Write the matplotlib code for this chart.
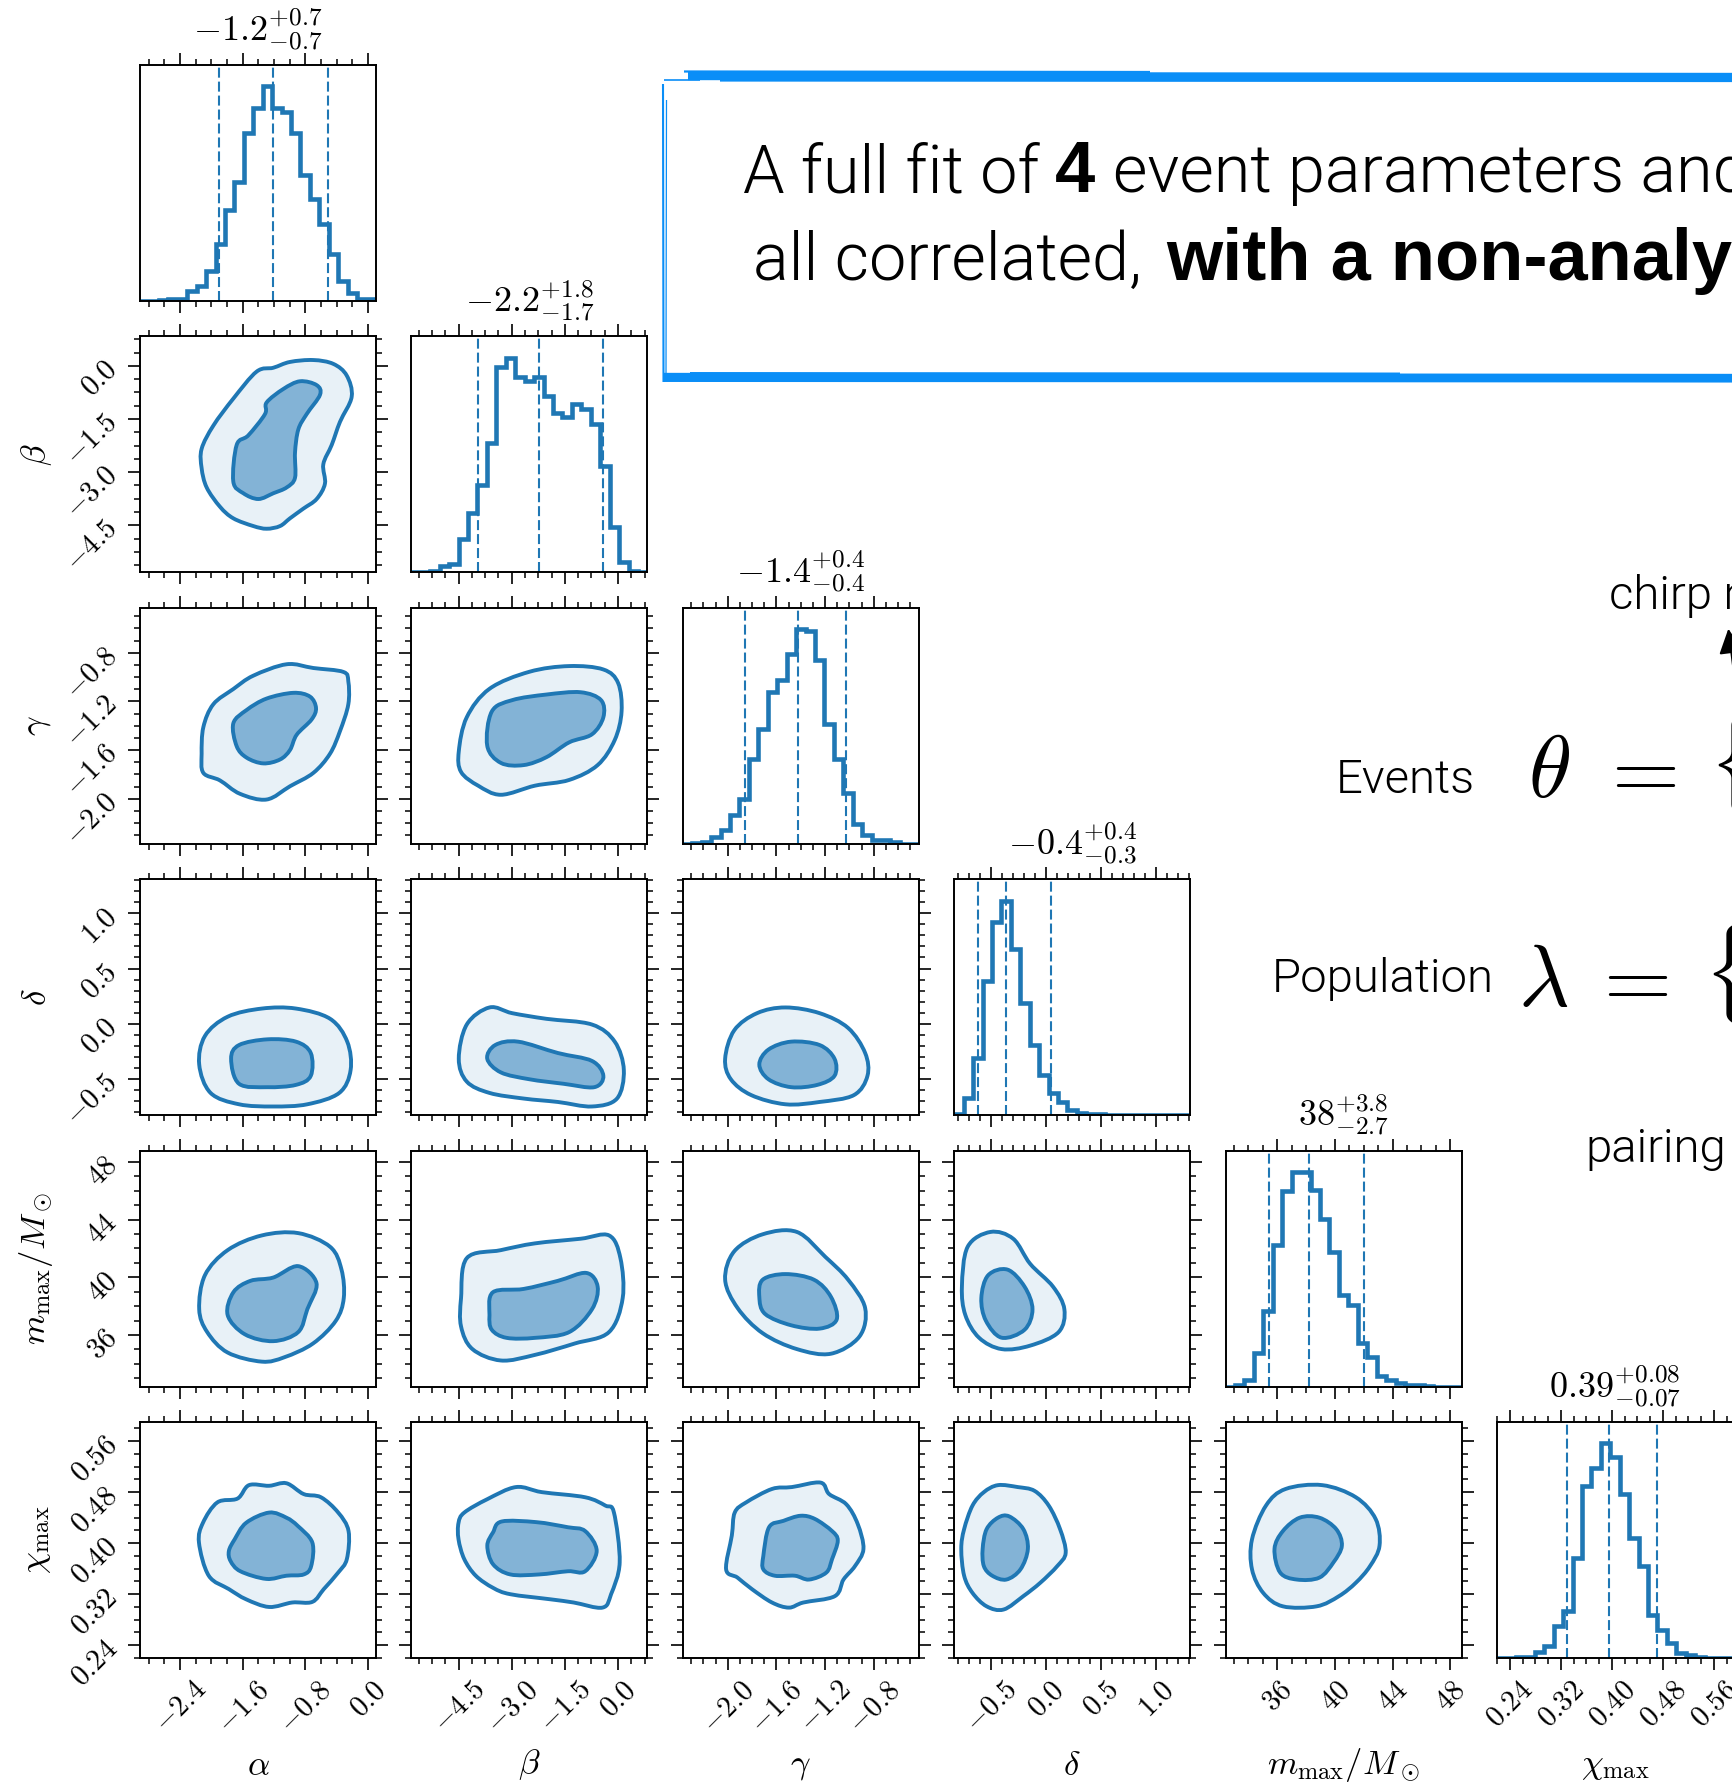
import numpy as np
import matplotlib
matplotlib.use("Agg")
import matplotlib.pyplot as plt
from matplotlib.ticker import FixedLocator, AutoMinorLocator, FuncFormatter, NullLocator
from matplotlib.lines import Line2D
from matplotlib.patches import FancyArrowPatch, PathPatch
from matplotlib.path import Path
from matplotlib import font_manager as fm
from matplotlib.font_manager import FontProperties

plt.rcParams['mathtext.fontset'] = 'cm'

# ---------------- data ----------------
param_labels = [r'$\alpha$', r'$\beta$', r'$\gamma$', r'$\delta$',
                r'$m_\mathrm{max}/M_\odot$', r'$\chi_\mathrm{max}$']
param_ranges = [(-2.91, 0.10), (-5.83, 0.83), (-2.37, -0.43),
                (-0.83, 1.31), (32.42, 48.78), (0.220, 0.590)]
param_ticks = [[-2.4, -1.6, -0.8, 0.0], [-4.5, -3.0, -1.5, 0.0],
               [-2.0, -1.6, -1.2, -0.8], [-0.5, 0.0, 0.5, 1.0],
               [36, 40, 44, 48], [0.24, 0.32, 0.40, 0.48, 0.56]]
tick_fmts = ['%.1f', '%.1f', '%.1f', '%.1f', '%d', '%.2f']
titles = [r'$-1.2^{+0.7}_{-0.7}$', r'$-2.2^{+1.8}_{-1.7}$', r'$-1.4^{+0.4}_{-0.4}$',
          r'$-0.4^{+0.4}_{-0.3}$', r'$38^{+3.8}_{-2.7}$', r'$0.39^{+0.08}_{-0.07}$']

q_alpha = [-1.90, -1.21, -0.51]
q_beta = [-3.96, -2.24, -0.41]
q_gamma = [-1.86, -1.42, -1.03]
q_delta = [-0.615, -0.358, 0.05]
q_mmax = [35.44, 38.19, 42.0]
q_chi = [0.330, 0.395, 0.471]

hist_alpha = [0, 0, 2, 5, 5, 30, 45, 90, 170, 270, 355, 500, 575, 638, 575, 562, 500, 375, 302, 230, 140, 60, 25, 5, 5]
hist_beta = [0, 2, 5, 18, 25, 98, 178, 260, 385, 610, 638, 580, 570, 580, 525, 475, 462, 500, 485, 442, 315, 135, 30, 5, 2]
hist_gamma = [0, 2, 5, 20, 40, 85, 132, 252, 342, 450, 488, 565, 638, 632, 548, 355, 252, 150, 60, 25, 12, 10, 5, 0, 0]
hist_delta = [5, 50, 170, 398, 575, 638, 495, 335, 210, 120, 65, 40, 15, 8, 5, 3, 2, 1, 1, 1, 1, 0, 0, 0, 0]
hist_mmax = [0, 5, 20, 98, 225, 420, 578, 635, 635, 582, 495, 398, 270, 242, 130, 88, 32, 20, 10, 5, 4, 2, 0, 0, 0]
hist_chi = [0, 0, 2, 4, 17, 37, 94, 140, 297, 512, 567, 640, 600, 490, 357, 274, 127, 84, 44, 14, 9, 2, 0, 0, 0]

# 2D credible-region outlines (x = column parameter, y = row parameter)
c_beta_alpha_out = [(-2.124, -2.343), (-1.975, -1.689), (-1.720, -0.926), (-1.422, -0.163), (-1.209, -0.054), (-0.997, 0.109), (-0.699, 0.163), (-0.444, 0.054), (-0.274, -0.272), (-0.210, -0.872), (-0.359, -1.580), (-0.465, -2.233), (-0.572, -2.778), (-0.551, -3.323), (-0.657, -3.759), (-0.827, -4.031), (-0.997, -4.304), (-1.124, -4.522), (-1.295, -4.598), (-1.465, -4.522), (-1.720, -4.304), (-1.890, -3.977), (-2.060, -3.432), (-2.124, -2.888)]
c_beta_alpha_in = [(-1.720, -3.268), (-1.677, -2.233), (-1.528, -1.961), (-1.316, -1.362), (-1.295, -1.035), (-1.082, -0.654), (-0.869, -0.436), (-0.657, -0.545), (-0.614, -0.817), (-0.784, -1.362), (-0.891, -1.798), (-0.933, -2.451), (-0.933, -3.160), (-1.039, -3.432), (-1.209, -3.596), (-1.401, -3.759), (-1.592, -3.596)]

c_gamma_alpha_out = [(-2.124, -1.630), (-2.102, -1.411), (-1.975, -1.223), (-1.720, -1.098), (-1.465, -0.988), (-1.039, -0.894), (-0.699, -0.925), (-0.317, -0.957), (-0.253, -1.035), (-0.253, -1.223), (-0.359, -1.443), (-0.487, -1.630), (-0.699, -1.787), (-0.997, -1.897), (-1.295, -2.006), (-1.635, -1.959), (-1.890, -1.849), (-2.102, -1.787)]
c_gamma_alpha_in = [(-1.720, -1.380), (-1.550, -1.270), (-1.295, -1.176), (-0.954, -1.129), (-0.742, -1.160), (-0.665, -1.254), (-0.721, -1.348), (-0.912, -1.474), (-0.997, -1.599), (-1.124, -1.677), (-1.337, -1.709), (-1.550, -1.662), (-1.677, -1.568)]
c_gamma_beta_out = [(-4.493, -1.611), (-4.268, -1.330), (-3.626, -1.096), (-2.501, -0.956), (-1.377, -0.909), (-0.413, -0.937), (0.005, -1.049), (0.101, -1.283), (-0.092, -1.517), (-0.574, -1.723), (-1.377, -1.845), (-2.341, -1.892), (-3.305, -1.967), (-3.947, -1.892), (-4.429, -1.779)]
c_gamma_beta_in = [(-3.690, -1.564), (-3.562, -1.283), (-2.984, -1.189), (-2.020, -1.143), (-1.056, -1.124), (-0.478, -1.189), (-0.413, -1.330), (-0.735, -1.470), (-1.377, -1.536), (-2.020, -1.658), (-2.663, -1.723), (-3.305, -1.705)]

c_delta_alpha_out = [(-2.155, -0.370), (-2.082, -0.112), (-1.792, 0.063), (-1.356, 0.137), (-0.921, 0.137), (-0.485, 0.044), (-0.267, -0.163), (-0.224, -0.421), (-0.369, -0.628), (-0.776, -0.731), (-1.211, -0.751), (-1.647, -0.731), (-2.010, -0.628)]
c_delta_alpha_in = [(-1.748, -0.318), (-1.647, -0.194), (-1.284, -0.142), (-0.921, -0.163), (-0.732, -0.266), (-0.732, -0.473), (-0.921, -0.555), (-1.284, -0.576), (-1.647, -0.545)]
c_delta_beta_out = [(-4.493, -0.318), (-4.268, -0.008), (-3.626, 0.147), (-2.984, 0.095), (-2.020, 0.044), (-0.734, -0.008), (-0.092, -0.163), (0.165, -0.421), (-0.028, -0.679), (-0.734, -0.751), (-1.698, -0.710), (-2.662, -0.679), (-3.626, -0.628), (-4.268, -0.525)]
c_delta_beta_in = [(-3.690, -0.318), (-3.465, -0.194), (-2.822, -0.163), (-1.698, -0.266), (-0.734, -0.338), (-0.413, -0.473), (-0.670, -0.576), (-1.538, -0.545), (-2.502, -0.504), (-3.305, -0.442)]
c_delta_gamma_out = [(-2.022, -0.318), (-1.947, -0.060), (-1.760, 0.095), (-1.526, 0.147), (-1.245, 0.095), (-1.011, -0.039), (-0.871, -0.266), (-0.852, -0.473), (-0.964, -0.648), (-1.245, -0.710), (-1.526, -0.731), (-1.807, -0.648), (-1.975, -0.504)]
c_delta_gamma_in = [(-1.741, -0.370), (-1.666, -0.235), (-1.479, -0.163), (-1.245, -0.194), (-1.123, -0.318), (-1.123, -0.473), (-1.264, -0.555), (-1.479, -0.576), (-1.666, -0.504)]

c_m_alpha_out = [(-2.155, 37.78), (-2.082, 40.14), (-1.792, 41.88), (-1.356, 42.90), (-0.892, 43.06), (-0.485, 42.11), (-0.340, 40.53), (-0.311, 38.56), (-0.413, 36.98), (-0.703, 35.41), (-1.066, 34.46), (-1.356, 34.15), (-1.792, 34.78), (-2.053, 36.20)]
c_m_alpha_in = [(-1.792, 37.38), (-1.719, 38.96), (-1.502, 39.75), (-1.211, 39.98), (-0.892, 40.77), (-0.659, 39.59), (-0.776, 37.78), (-0.892, 36.20), (-1.211, 35.57), (-1.574, 36.05)]
c_m_beta_out = [(-4.429, 38.56), (-4.268, 41.32), (-3.305, 41.88), (-2.341, 42.35), (-1.056, 42.67), (-0.253, 42.90), (0.069, 41.32), (0.133, 38.56), (-0.253, 36.20), (-1.217, 35.41), (-2.341, 34.62), (-3.305, 34.23), (-4.108, 35.02), (-4.429, 36.59)]
c_m_beta_in = [(-3.626, 37.38), (-3.530, 38.96), (-2.662, 39.19), (-1.698, 39.75), (-0.895, 40.30), (-0.574, 39.35), (-0.734, 37.78), (-1.377, 36.20), (-2.341, 35.80), (-3.144, 35.80), (-3.562, 36.36)]
c_m_gamma_out = [(-2.022, 39.83), (-1.947, 41.80), (-1.713, 42.98), (-1.432, 43.14), (-1.198, 41.41), (-1.011, 39.83), (-0.871, 37.86), (-0.918, 35.89), (-1.152, 34.70), (-1.432, 35.02), (-1.713, 36.12), (-1.919, 37.86)]
c_m_gamma_in = [(-1.741, 38.64), (-1.713, 39.83), (-1.526, 40.22), (-1.292, 39.83), (-1.152, 38.64), (-1.105, 37.07), (-1.245, 36.44), (-1.479, 36.67), (-1.694, 37.46)]
c_m_delta_out = [(-0.760, 39.35), (-0.708, 42.11), (-0.502, 43.14), (-0.295, 42.67), (-0.141, 40.93), (0.066, 39.35), (0.169, 37.78), (0.117, 36.20), (-0.141, 35.26), (-0.400, 35.02), (-0.605, 35.81), (-0.729, 37.38)]
c_m_delta_in = [(-0.584, 38.56), (-0.522, 40.14), (-0.347, 40.53), (-0.192, 39.35), (-0.120, 37.78), (-0.192, 36.36), (-0.400, 35.81), (-0.543, 36.99)]

c_chi_alpha_out = [(-2.158, 0.401), (-2.107, 0.432), (-1.923, 0.464), (-1.666, 0.470), (-1.520, 0.491), (-1.263, 0.490), (-1.043, 0.494), (-0.822, 0.477), (-0.602, 0.472), (-0.382, 0.448), (-0.250, 0.419), (-0.272, 0.375), (-0.382, 0.354), (-0.566, 0.328), (-0.712, 0.308), (-0.969, 0.307), (-1.263, 0.300), (-1.556, 0.312), (-1.776, 0.328), (-2.033, 0.349)]
c_chi_alpha_in = [(-1.776, 0.388), (-1.703, 0.406), (-1.556, 0.432), (-1.263, 0.448), (-1.043, 0.440), (-0.897, 0.427), (-0.712, 0.401), (-0.727, 0.364), (-0.822, 0.351), (-1.043, 0.349), (-1.300, 0.344), (-1.630, 0.356), (-1.755, 0.372)]
c_chi_beta_out = [(-4.50, 0.432), (-4.338, 0.448), (-3.688, 0.469), (-2.876, 0.488), (-2.145, 0.480), (-0.926, 0.472), (-0.357, 0.459), (-0.114, 0.448), (0.048, 0.370), (-0.195, 0.320), (-0.439, 0.299), (-1.251, 0.307), (-1.904, 0.312), (-3.038, 0.320), (-3.526, 0.330), (-4.013, 0.349), (-4.338, 0.375), (-4.50, 0.406)]
c_chi_beta_in = [(-3.688, 0.396), (-3.526, 0.417), (-3.282, 0.434), (-2.307, 0.433), (-1.414, 0.425), (-0.926, 0.419), (-0.601, 0.388), (-0.926, 0.356), (-1.414, 0.356), (-2.226, 0.351), (-3.038, 0.351), (-3.526, 0.367)]
c_chi_gamma_out = [(-2.014, 0.359), (-1.967, 0.412), (-1.943, 0.448), (-1.849, 0.464), (-1.637, 0.485), (-1.473, 0.488), (-1.238, 0.495), (-1.167, 0.477), (-1.026, 0.461), (-0.932, 0.430), (-0.885, 0.391), (-0.955, 0.364), (-1.049, 0.343), (-1.120, 0.317), (-1.379, 0.307), (-1.497, 0.299), (-1.637, 0.307), (-1.802, 0.328), (-1.920, 0.346)]
c_chi_gamma_in = [(-1.708, 0.380), (-1.661, 0.425), (-1.543, 0.435), (-1.402, 0.443), (-1.284, 0.438), (-1.143, 0.419), (-1.096, 0.404), (-1.143, 0.375), (-1.190, 0.354), (-1.332, 0.343), (-1.449, 0.349), (-1.614, 0.349), (-1.708, 0.359)]
c_chi_delta_out = [(-0.766, 0.391), (-0.740, 0.422), (-0.664, 0.459), (-0.561, 0.480), (-0.433, 0.491), (-0.254, 0.488), (-0.101, 0.482), (0.027, 0.459), (0.130, 0.422), (0.181, 0.385), (0.104, 0.364), (-0.049, 0.338), (-0.203, 0.317), (-0.382, 0.296), (-0.536, 0.301), (-0.664, 0.322), (-0.740, 0.349)]
c_chi_delta_in = [(-0.572, 0.391), (-0.536, 0.422), (-0.433, 0.440), (-0.331, 0.442), (-0.203, 0.422), (-0.162, 0.391), (-0.229, 0.359), (-0.357, 0.343), (-0.485, 0.349), (-0.561, 0.364)]
c_chi_m_out = [(34.25, 0.359), (34.25, 0.406), (35.22, 0.459), (36.58, 0.485), (39.12, 0.491), (41.45, 0.472), (42.82, 0.438), (43.09, 0.396), (42.43, 0.364), (41.45, 0.338), (40.28, 0.317), (38.73, 0.301), (36.39, 0.301), (35.03, 0.322)]
c_chi_m_in = [(35.81, 0.391), (36.39, 0.419), (37.56, 0.440), (38.92, 0.440), (40.09, 0.422), (40.48, 0.396), (39.90, 0.370), (38.92, 0.346), (37.36, 0.343), (36.20, 0.354)]

hists = [hist_alpha, hist_beta, hist_gamma, hist_delta, hist_mmax, hist_chi]
quants = [q_alpha, q_beta, q_gamma, q_delta, q_mmax, q_chi]
contours = {
    (1, 0): (c_beta_alpha_out, c_beta_alpha_in),
    (2, 0): (c_gamma_alpha_out, c_gamma_alpha_in),
    (2, 1): (c_gamma_beta_out, c_gamma_beta_in),
    (3, 0): (c_delta_alpha_out, c_delta_alpha_in),
    (3, 1): (c_delta_beta_out, c_delta_beta_in),
    (3, 2): (c_delta_gamma_out, c_delta_gamma_in),
    (4, 0): (c_m_alpha_out, c_m_alpha_in),
    (4, 1): (c_m_beta_out, c_m_beta_in),
    (4, 2): (c_m_gamma_out, c_m_gamma_in),
    (4, 3): (c_m_delta_out, c_m_delta_in),
    (5, 0): (c_chi_alpha_out, c_chi_alpha_in),
    (5, 1): (c_chi_beta_out, c_chi_beta_in),
    (5, 2): (c_chi_gamma_out, c_chi_gamma_in),
    (5, 3): (c_chi_delta_out, c_chi_delta_in),
    (5, 4): (c_chi_m_out, c_chi_m_in),
}

# ---------------- style ----------------
C = '#1f77b4'
C_LIGHT = '#e8f1f7'
C_MID = '#83b3d6'
BRUSH = '#0a8ef7'

W, H = 1733, 1785
fig = plt.figure(figsize=(W / 100, H / 100), dpi=100)
fig.patch.set_facecolor('white')

SIZE = 236
STEP = 271.4
LEFT0, TOP0 = 140, 65
N = len(param_labels)
TICK_FS = 21
TITLE_FS = 26
LABEL_FS = 25


def fx(x):
    return x / W


def fy(y):
    return 1 - y / H


def fmt_factory(f):
    return FuncFormatter(lambda v, p: '$' + (f % v) + '$')


def setup_axis(axis, k):
    axis.set_major_locator(FixedLocator(param_ticks[k]))
    axis.set_minor_locator(AutoMinorLocator())
    axis.set_major_formatter(fmt_factory(tick_fmts[k]))


def smooth_closed(pts):
    """Closed Catmull-Rom curve through the given vertices, as cubic Bezier path."""
    P = np.asarray(pts, float)
    n = len(P)
    verts = [P[0]]
    codes = [Path.MOVETO]
    for i in range(n):
        p0, p1, p2, p3 = P[(i - 1) % n], P[i], P[(i + 1) % n], P[(i + 2) % n]
        verts += [p1 + (p2 - p0) / 6.0, p2 - (p3 - p1) / 6.0, p2]
        codes += [Path.CURVE4] * 3
    verts.append(P[0])
    codes.append(Path.CLOSEPOLY)
    return Path(verts, codes)


for r in range(N):
    for c in range(r + 1):
        l = LEFT0 + STEP * c
        t = TOP0 + STEP * r
        ax = fig.add_axes([fx(l), fy(t + SIZE), SIZE / W, SIZE / H])
        for s in ax.spines.values():
            s.set_linewidth(1.4)
            s.set_zorder(5)
        ax.set_xlim(param_ranges[c])
        setup_axis(ax.xaxis, c)
        ax.tick_params(axis='x', which='both', direction='out', top=True, bottom=True,
                       width=1.2, labelsize=TICK_FS, labelrotation=45, pad=4,
                       labelbottom=(r == N - 1), labeltop=False)
        ax.tick_params(which='major', length=8.5)
        ax.tick_params(which='minor', length=4.5, width=1.1)
        if r == c:
            counts = hists[c]
            lo, hi = param_ranges[c]
            edges = np.linspace(lo, hi, len(counts) + 1)
            ax.stairs(counts, edges, color=C, lw=3.3, baseline=0)
            for q in quants[c]:
                ax.axvline(q, color=C, lw=1.5, ls=(0, (4.8, 1.9)))
            ax.set_ylim(0, 1.1 * max(counts))
            ax.yaxis.set_major_locator(NullLocator())
            ax.yaxis.set_minor_locator(NullLocator())
            ax.text(0.5, 1.102, titles[c], transform=ax.transAxes, ha='center',
                    va='baseline', fontsize=TITLE_FS)
        else:
            ax.set_ylim(param_ranges[r])
            setup_axis(ax.yaxis, r)
            ax.tick_params(axis='y', which='both', direction='out', left=True, right=True,
                           width=1.2, labelsize=TICK_FS, labelrotation=45, pad=4,
                           labelleft=(c == 0), labelright=False)
            ax.tick_params(which='major', length=8.5)
            ax.tick_params(which='minor', length=4.5, width=1.1)
            outer, inner = contours[(r, c)]
            po = smooth_closed(outer)
            pi = smooth_closed(inner)
            ax.add_patch(PathPatch(po, facecolor=C_LIGHT, edgecolor='none', zorder=1))
            ax.add_patch(PathPatch(pi, facecolor=C_MID, edgecolor='none', zorder=2))
            ax.add_patch(PathPatch(po, facecolor='none', edgecolor=C, lw=2.8,
                                   joinstyle='round', zorder=3))
            ax.add_patch(PathPatch(pi, facecolor='none', edgecolor=C, lw=2.8,
                                   joinstyle='round', zorder=3))
            if c == 0:
                ax.set_ylabel(param_labels[r], fontsize=LABEL_FS)
                ax.yaxis.set_label_coords(-0.44, 0.5)
                ax.yaxis.label.set_va('center')
                ax.yaxis.label.set_ha('center')
        if r == N - 1:
            ax.set_xlabel(param_labels[c], fontsize=LABEL_FS)
            ax.xaxis.set_label_coords(0.5, -0.453)
            ax.xaxis.label.set_va('center')


# ---------------- right-hand annotation text ----------------
WMAP = {'thin': 100, 'extra light': 200, 'ultralight': 200, 'light': 300,
        'normal': 400, 'regular': 400, 'book': 400, 'medium': 500,
        'semibold': 600, 'bold': 700, 'heavy': 800, 'black': 900}


def weight_of(f):
    w = f.weight
    if isinstance(w, str):
        return WMAP.get(w.lower(), 400)
    return w


def pick_light():
    prefs = ['Roboto', 'Lato', 'Open Sans', 'Inter', 'Noto Sans', 'DejaVu Sans']
    for lo, hi in [(280, 320), (200, 350)]:
        for n in prefs:
            for f in fm.fontManager.ttflist:
                if f.name == n and f.style == 'normal' and lo <= weight_of(f) <= hi:
                    return n, f.fname
    return 'Liberation Sans', None


fam, light_file = pick_light()
light = FontProperties(fname=light_file) if light_file else FontProperties(family=fam)
bold = FontProperties(family=['Liberation Sans', 'DejaVu Sans'], weight='bold')

fig.canvas.draw()
renderer = fig.canvas.get_renderer()


def ftext(x, y, s, fp=None, size=36):
    kw = dict(fontsize=size, ha='left', va='baseline')
    if fp is not None:
        kw['fontproperties'] = fp
    return fig.text(fx(x), fy(y), s, **kw)


def chain(x, y, pieces):
    # each piece: (text, font, size, gap in px after it)
    for s, fp, size, gap in pieces:
        t = ftext(x, y, s, fp, size)
        x += t.get_window_extent(renderer=renderer).width + gap


# header box (sketchy brush frame)
def brush(xs, ys, lw):
    fig.add_artist(Line2D([fx(x) for x in xs], [fy(y) for y in ys],
                          transform=fig.transFigure, color=BRUSH, lw=lw,
                          solid_capstyle='butt'))


brush([688, 1733], [76, 77], 6.0)
brush([684, 1150], [71.5, 72], 1.6)
brush([720, 1733], [80.5, 81], 1.6)
brush([664, 700], [80, 80], 1.2)
brush([663, 1733], [377, 378], 6.0)
brush([690, 1400], [373, 373.5], 1.4)
brush([663, 1733], [381, 381.5], 1.4)
brush([663, 663.5], [84, 382], 1.5)
brush([666.5, 666], [100, 376], 0.9)

HEAD_FS = 48
BOLD_FS = 52
chain(743, 192, [('A full fit of', light, HEAD_FS, 15), ('4', bold, BOLD_FS, 18),
                 ('event parameters and 6 population parameters,', light, HEAD_FS, 0)])
chain(753, 280, [('all correlated,', light, HEAD_FS, 24),
                 ('with a non-analytic likelihood', bold, BOLD_FS, 0)])

SIDE_FS = 34
MATH_FS = 63
ftext(1609, 609, 'chirp mass', light, SIDE_FS)
ftext(1336, 793, 'Events', light, SIDE_FS)
ftext(1528, 797, r'$\theta$', None, MATH_FS)
ftext(1596, 797, r'$=$', None, MATH_FS)
ftext(1708, 797, r'$\{$', None, MATH_FS)
ftext(1272, 992, 'Population', light, SIDE_FS)
ftext(1518, 1006, r'$\lambda$', None, MATH_FS)
ftext(1588, 1006, r'$=$', None, MATH_FS)
ftext(1703, 1006, r'$\{$', None, MATH_FS)
ftext(1585, 1162, 'pairing', light, SIDE_FS)

fig.add_artist(FancyArrowPatch(posA=(fx(1740), fy(720)), posB=(fx(1728), fy(626)),
                               transform=fig.transFigure, arrowstyle='-|>',
                               mutation_scale=38, color='black', lw=1.5))

fig.savefig('out.png', dpi=100, facecolor='white')
